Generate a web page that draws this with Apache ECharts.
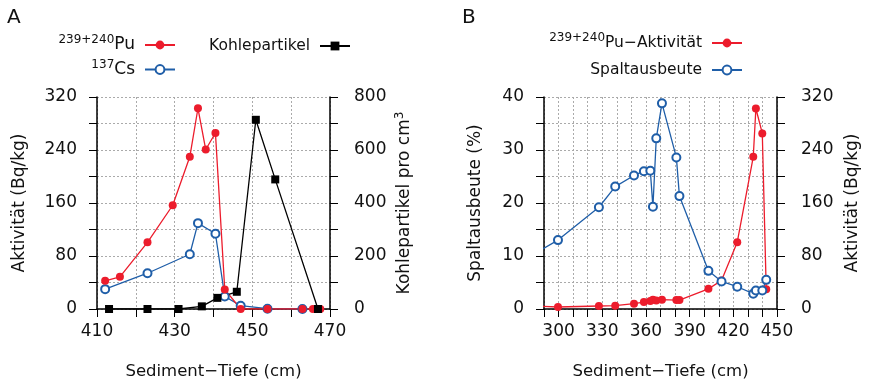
<!DOCTYPE html>
<html>
<head>
<meta charset="utf-8">
<script src="https://cdn.jsdelivr.net/npm/echarts@6/dist/echarts.min.js"></script>
<style>
  html, body { margin: 0; padding: 0; background: #fff; }
  #chart { width: 869px; height: 385px; }
</style>
</head>
<body>
<div id="chart"></div>
<script>
// Panel A: Aktivität und Kohlepartikel
const depthPuA = [412.1, 415.9, 423, 429.5, 433.9, 436, 438, 440.5, 442.9, 447, 453.9, 462.9, 465.6, 467.5];
const puA = [42.5, 48.5, 100.6, 156.6, 229.7, 303, 240.7, 265.7, 29.5, 0, 0, 0, 0, 0];
const depthCsA = [412.1, 423, 433.9, 436, 440.5, 442.9, 447, 453.9, 462.9];
const csA = [30, 54, 82.6, 129.6, 113.6, 19, 5, 0.5, 0];
const depthKohle = [413.1, 423, 431, 437, 441, 446, 450.9, 455.9, 466.9];
const kohle = [0, 0, 0, 10, 42, 65, 714, 489, 0];

// Panel B: Pu-Aktivität und Spaltausbeute (erster Punkt liegt links außerhalb)
const depthB = [280, 299.6, 327.7, 338.9, 351.8, 358.6, 363, 364.8, 367.1, 371, 380.9, 383, 402.9, 411.9, 422.7, 433.7, 435.5, 439.9, 442.6];
const puB = [4.8, 3, 4.5, 5, 8, 10.5, 12, 14, 13, 14, 13.5, 13.5, 30.4, 43, 100.8, 229.7, 302.6, 265, 30];
const spalt = [9.9, 13.0, 19.2, 23.1, 25.2, 26.0, 26.1, 19.3, 32.2, 38.8, 28.6, 21.3, 7.2, 5.2, 4.2, 2.9, 3.5, 3.5, 5.5];

const RED = "#ec1c2c";
const BLUE = "#1f5ea8";
const FONT = "DejaVu Sans";

const legendText = {
  puA: "{sup|239+240}{big|Pu}",
  csA: "{sup|137}{big|Cs}",
  kohle: "Kohlepartikel",
  puB: "{sup|239+240}Pu−Aktivität",
  spalt: "Spaltausbeute",
};

function pairs(xs, ys) {
  return xs.map((x, i) => [x, ys[i]]);
}

const myChart = echarts.init(document.getElementById("chart"));

const axisLine = { show: true, onZero: false, lineStyle: { color: "#000", width: 1.5 } };
const axisTick = { show: true, inside: false, length: 8, lineStyle: { color: "#000", width: 1 } };
const gridLine = { show: true, lineStyle: { color: "#aaa", type: [2, 2], width: 1 } };
const tickFont = { fontFamily: FONT, fontSize: 17, color: "#111" };
const xNameFont = { fontFamily: FONT, fontSize: 16.5, color: "#111" };
const yNameFont = {
  fontFamily: FONT,
  fontSize: 17,
  color: "#111",
  rich: { sup: { fontFamily: FONT, fontSize: 12, verticalAlign: "top", lineHeight: 21 } },
};

function every(step, offset) {
  return function (v) {
    return Math.abs(((v - offset) % step + step) % step) < 1e-6 ? String(v) : "";
  };
}

function legend(names, pos) {
  return Object.assign(
    {
      data: names,
      orient: "vertical",
      align: "right",
      itemWidth: 30,
      itemHeight: 11,
      itemGap: 6,
      selectedMode: false,
      formatter: (n) => legendText[n],
      textStyle: {
        fontFamily: FONT,
        fontSize: 15.5,
        color: "#111",
        padding: [0, 5, 0, 0],
        rich: {
          sup: { fontFamily: FONT, fontSize: 12, verticalAlign: "top", lineHeight: 22, color: "#111" },
          big: { fontFamily: FONT, fontSize: 17, color: "#111" },
        },
      },
    },
    pos
  );
}

const option = {
  animation: false,
  backgroundColor: "#fff",
  title: [
    { text: "A", left: 2, top: 3, textStyle: { fontFamily: FONT, fontSize: 20, fontWeight: "normal", color: "#111" } },
    { text: "B", left: 457, top: 3, textStyle: { fontFamily: FONT, fontSize: 20, fontWeight: "normal", color: "#111" } },
  ],
  legend: [
    legend(["puA", "csA"], { right: 688, top: 29, itemGap: 5 }),
    legend(["kohle"], { right: 513, top: 33 }),
    legend(["puB", "spalt"], { right: 121, top: 27, itemGap: 11 }),
  ],
  grid: [
    { left: 97, right: 539, top: 97, bottom: 75 },
    { left: 544, right: 92, top: 97, bottom: 75 },
  ],
  xAxis: [
    {
      type: "value", gridIndex: 0, min: 410, max: 470, interval: 10,
      name: "Sediment−Tiefe (cm)", nameLocation: "middle", nameGap: 54, nameTextStyle: xNameFont,
      axisLine, axisTick, splitLine: gridLine,
      axisLabel: Object.assign({ margin: 14, formatter: every(20, 10) }, tickFont),
    },
    {
      type: "value", gridIndex: 1, min: 290, max: 450, interval: 10,
      name: "Sediment−Tiefe (cm)", nameLocation: "middle", nameGap: 54, nameTextStyle: xNameFont,
      axisLine, axisTick, splitLine: gridLine,
      axisLabel: Object.assign({ margin: 14, formatter: every(30, 0) }, tickFont),
    },
  ],
  yAxis: [
    {
      type: "value", gridIndex: 0, position: "left", min: 0, max: 320, interval: 40,
      name: "Aktivität (Bq/kg)", nameLocation: "middle", nameGap: 69, nameRotate: 90, nameTextStyle: yNameFont,
      axisLine, axisTick, splitLine: gridLine,
      axisLabel: Object.assign({ margin: 20, formatter: every(80, 0) }, tickFont),
    },
    {
      type: "value", gridIndex: 0, position: "right", min: 0, max: 800, interval: 100,
      name: "Kohlepartikel pro cm{sup|3}", nameLocation: "middle", nameGap: 64, nameRotate: 90, nameTextStyle: yNameFont,
      axisLine, axisTick, splitLine: { show: false },
      axisLabel: Object.assign({ margin: 24, formatter: every(200, 0) }, tickFont),
    },
    {
      type: "value", gridIndex: 1, position: "left", min: 0, max: 40, interval: 5,
      name: "Spaltausbeute (%)", nameLocation: "middle", nameGap: 60, nameRotate: 90, nameTextStyle: yNameFont,
      axisLine, axisTick, splitLine: gridLine,
      axisLabel: Object.assign({ margin: 20, formatter: every(10, 0) }, tickFont),
    },
    {
      type: "value", gridIndex: 1, position: "right", min: 0, max: 320, interval: 40,
      name: "Aktivität (Bq/kg)", nameLocation: "middle", nameGap: 67, nameRotate: 90, nameTextStyle: yNameFont,
      axisLine, axisTick, splitLine: { show: false },
      axisLabel: Object.assign({ margin: 24, formatter: every(80, 0) }, tickFont),
    },
  ],
  series: [
    {
      name: "csA", type: "line", xAxisIndex: 0, yAxisIndex: 0, data: pairs(depthCsA, csA),
      symbol: "emptyCircle", symbolSize: 8, color: BLUE,
      lineStyle: { color: BLUE, width: 1.3 }, itemStyle: { color: BLUE, borderWidth: 1.2 },
    },
    {
      name: "puA", type: "line", xAxisIndex: 0, yAxisIndex: 0, data: pairs(depthPuA, puA),
      symbol: "circle", symbolSize: 8, color: RED,
      lineStyle: { color: RED, width: 1.3 }, itemStyle: { color: RED },
    },
    {
      name: "kohle", type: "line", xAxisIndex: 0, yAxisIndex: 1, data: pairs(depthKohle, kohle),
      symbol: "rect", symbolSize: 8, color: "#000",
      lineStyle: { color: "#000", width: 1.3 }, itemStyle: { color: "#000" },
    },
    {
      name: "puB", type: "line", xAxisIndex: 1, yAxisIndex: 3, data: pairs(depthB, puB),
      symbol: "circle", symbolSize: 8, color: RED,
      lineStyle: { color: RED, width: 1.3 }, itemStyle: { color: RED },
    },
    {
      name: "spalt", type: "line", xAxisIndex: 1, yAxisIndex: 2, data: pairs(depthB, spalt),
      symbol: "emptyCircle", symbolSize: 8, color: BLUE,
      lineStyle: { color: BLUE, width: 1.3 }, itemStyle: { color: BLUE, borderWidth: 1.2 },
    },
  ],
};

myChart.setOption(option);
window.addEventListener("resize", () => myChart.resize());
</script>
</body>
</html>
